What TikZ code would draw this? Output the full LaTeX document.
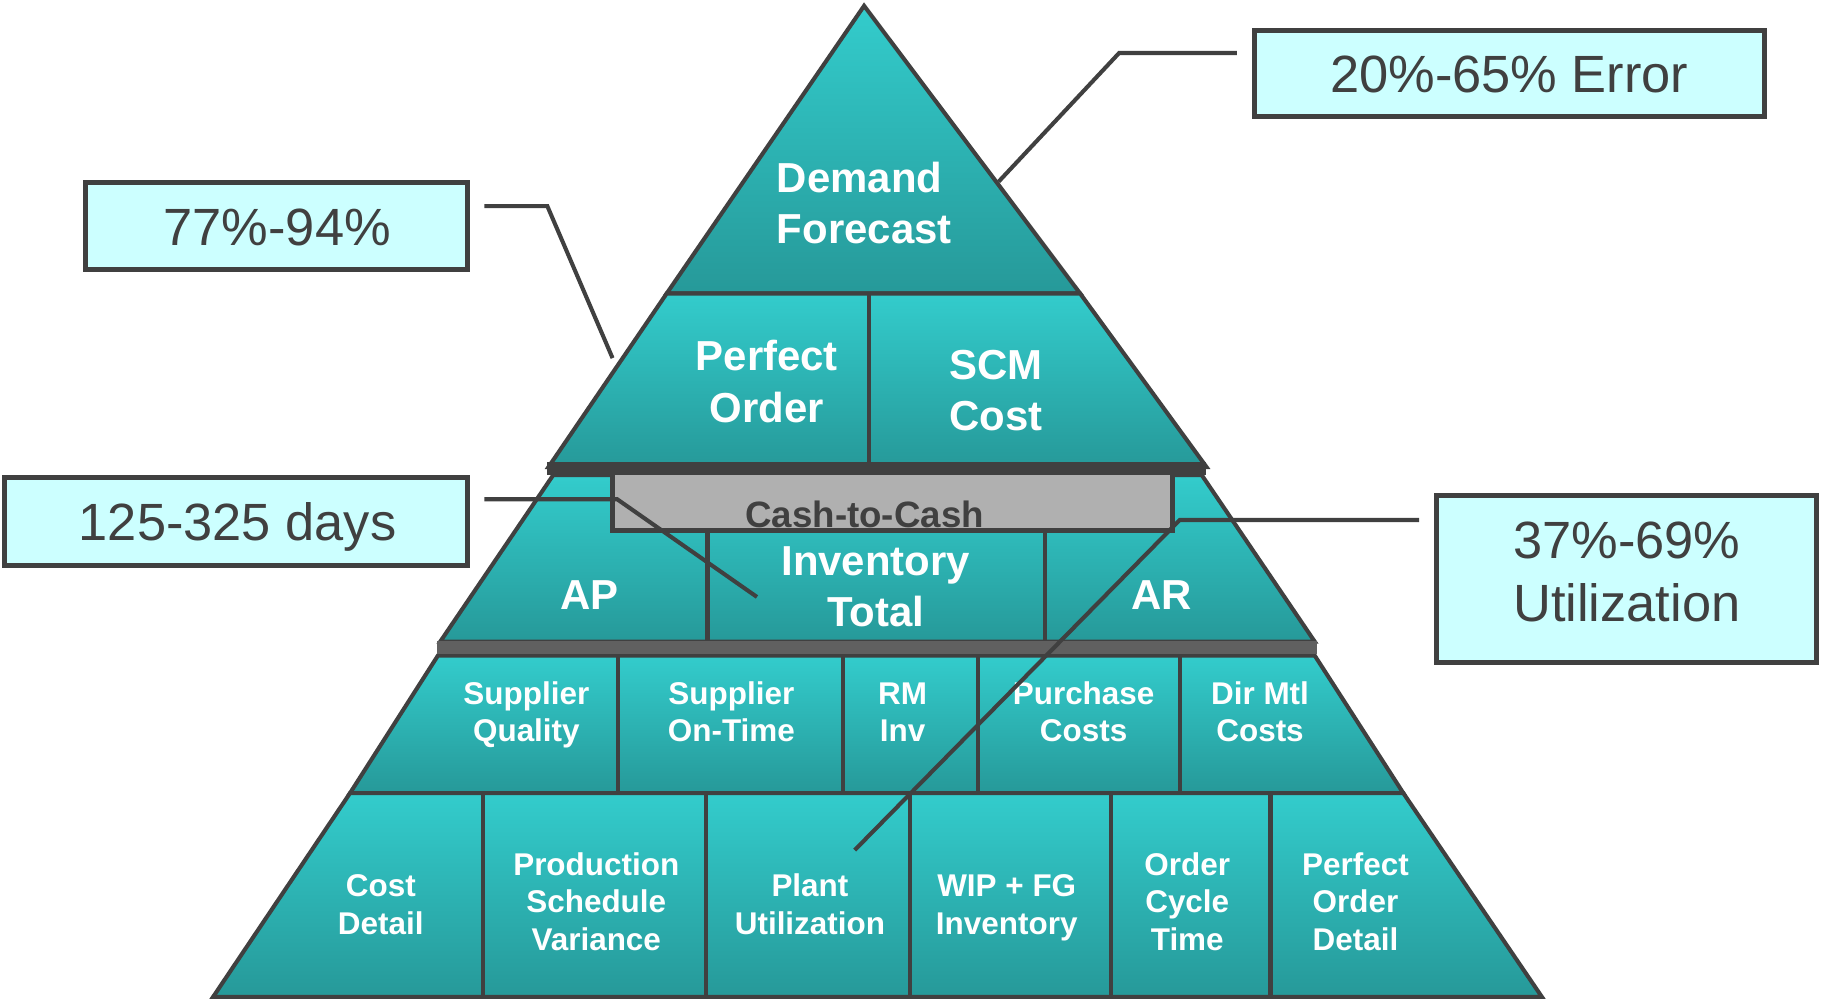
\documentclass[tikz,border=0pt]{standalone}
\usepackage{fontspec}
\setmainfont{Liberation Sans}
\usetikzlibrary{calc}

\definecolor{tealtop}{RGB}{51,204,204}
\definecolor{tealbot}{RGB}{38,153,153}
\definecolor{edge}{RGB}{64,64,64}
\definecolor{barmid}{RGB}{96,96,96}
\definecolor{cashfill}{RGB}{176,176,176}
\definecolor{calloutfill}{RGB}{204,255,255}

\begin{document}
\begin{tikzpicture}[x=1pt, y=-1pt,
  tierfill/.style={draw=edge, line width=3.5pt, line join=miter, top color=tealtop, bottom color=tealbot},
  divider/.style={draw=edge, line width=3.5pt},
  bigtxt/.style={text=white, font=\fontsize{36}{44}\selectfont\bfseries, align=center, inner sep=0pt},
  smalltxt/.style={text=white, font=\fontsize{27}{31.5}\selectfont\bfseries, align=center, inner sep=0pt},
  lowtxt/.style={smalltxt, font=\fontsize{27}{32.3}\selectfont\bfseries},
  callout/.style={draw=edge, line width=4.3pt, fill=calloutfill, text=edge,
    font=\fontsize{45}{54}\selectfont, inner sep=0pt},
  callouttxt/.style={text=edge, font=\fontsize{45}{54}\selectfont, align=center, inner sep=0pt},
  link/.style={draw=edge, line width=3.5pt, line join=miter},
]
\useasboundingbox (0,0) rectangle (1568,860);

% --- pyramid tiers -------------------------------------------------------
% top: Demand Forecast
\path[tierfill] (742,5) -- (927.5,252) -- (572.5,252) -- cycle;
% second tier
\path[tierfill] (572.5,252) -- (927.5,252) -- (1036,401) -- (471,401) -- cycle;
\draw[divider] (746,252) -- (746,401);
% third tier
\path[tierfill] (475,408) -- (1032,408) -- (1129,551) -- (378,551) -- cycle;
\filldraw[fill=cashfill, draw=edge, line width=4pt] (526,404) rectangle (1007,455.7);
\fill[edge] (469.5,397) rectangle (1036,407.5);
\draw[divider] (607.5,455.7) -- (607.5,551);
\draw[divider] (897.4,455.7) -- (897.4,551);
% fourth tier
\path[tierfill] (376,563) -- (1129,563) -- (1205,681) -- (300.6,681) -- cycle;
\fill[barmid] (375,550.5) rectangle (1131,561.5);
\foreach \xx in {530.5,724,840,1013} \draw[divider] (\xx,563) -- (\xx,681);
% bottom tier
\path[tierfill] (300.6,681) -- (1205,681) -- (1324,856) -- (183,856) -- cycle;
\foreach \xx in {414.6,606,781.5,954,1091} \draw[divider] (\xx,681) -- (\xx,856);

% --- pyramid labels ------------------------------------------------------
\node[bigtxt, align=left, anchor=base west] (demand) at (667,209.5) {Demand\\Forecast};
\node[bigtxt, anchor=base] (perfect) at (658.5,362.5) {Perfect\\Order};
\node[bigtxt, anchor=base] (scm) at (855.5,369.5) {SCM\\Cost};
\node[text=edge, font=\fontsize{31.5}{36}\selectfont\bfseries, inner sep=0pt, anchor=base] (cash) at (742.5,453) {Cash-to-Cash};
\node[bigtxt, anchor=base] (ap) at (506,523) {AP};
\node[bigtxt, anchor=base] (inv) at (752,538) {Inventory\\Total};
\node[bigtxt, anchor=base] (ar) at (997.6,523) {AR};

\node[smalltxt, anchor=base] (supq) at (452,636.5) {Supplier\\Quality};
\node[smalltxt, anchor=base] (supt) at (628,636.5) {Supplier\\On-Time};
\node[smalltxt, anchor=base] (rm) at (775,636.5) {RM\\Inv};
\node[smalltxt, anchor=base] (purch) at (930.5,636.5) {Purchase\\Costs};
\node[smalltxt, anchor=base] (dirmtl) at (1082,636.5) {Dir Mtl\\Costs};

\node[lowtxt, anchor=base] (cost) at (327,802.5) {Cost\\Detail};
\node[lowtxt, anchor=base] (prod) at (512,816) {Production\\Schedule\\Variance};
\node[lowtxt, anchor=base] (plant) at (695.5,802.5) {Plant\\Utilization};
\node[lowtxt, anchor=base] (wip) at (864.5,802.5) {WIP + FG\\Inventory};
\node[lowtxt, anchor=base] (cycle) at (1019.5,816) {Order\\Cycle\\Time};
\node[lowtxt, anchor=base] (pod) at (1164,816) {Perfect\\Order\\Detail};

% --- callouts ------------------------------------------------------------
\node[callout, minimum width=437.7pt, minimum height=73.7pt] (errbox) at (1296,63) {};
\node[callouttxt, anchor=base] (errtxt) at (1296,79.5) {20\%-65\% Error};

\node[callout, minimum width=328.7pt, minimum height=75.2pt] (pobox) at (237.5,194.2) {};
\node[callouttxt, anchor=base] (potxt) at (238,210.5) {77\%-94\%};

\node[callout, minimum width=397.7pt, minimum height=75.7pt] (c2cbox) at (203,448) {};
\node[callouttxt, anchor=base] (c2ctxt) at (204,464) {125-325 days};

\node[callout, minimum width=326.7pt, minimum height=143.6pt] (utilbox) at (1396.5,497.5) {};
\node[callouttxt, anchor=base] (utiltxt) at (1397,533.5) {37\%-69\%\\Utilization};

% --- connectors ----------------------------------------------------------
\coordinate (errtip) at (857.5,156);
\coordinate (potip) at (526,307.5);
\coordinate (c2ctip) at (650,512.6);
\coordinate (utiltip) at (733.9,730);

\draw[link] ($(errbox.north west)+(-13,21.5)$) -- ++(-101,0) -- (errtip);
\draw[link] ($(pobox.north east)+(12,22.5)$) -- ++(54,0) -- (potip);
\draw[link] ($(c2cbox.north east)+(12,20.7)$) -- ++(114,0) -- (c2ctip);
\draw[link] ($(utilbox.north west)+(-12.5,23)$) -- ++(-205.5,0) -- (utiltip);
\end{tikzpicture}
\end{document}
